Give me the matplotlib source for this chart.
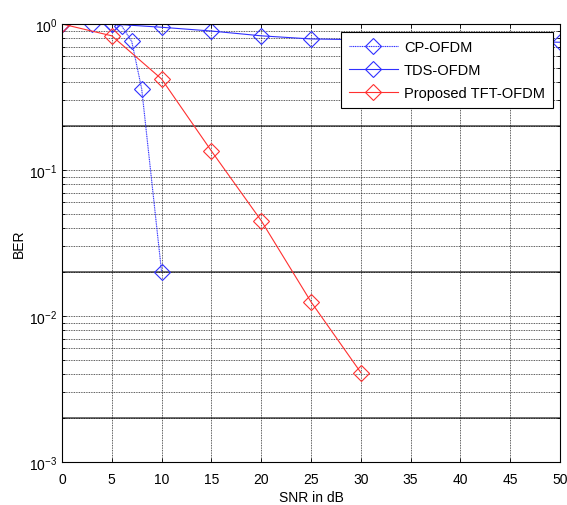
import matplotlib
matplotlib.use("Agg")
import matplotlib.pyplot as plt
import numpy as np

plt.rcParams.update({
    "font.family": ["Liberation Sans", "DejaVu Sans"],
    "font.size": 10,
    "mathtext.default": "regular",
})

# --- data ---
snr_cp = [0, 3, 5, 6, 7, 8, 10]
ber_cp = [1.0, 1.0, 1.0, 0.97, 0.76, 0.36, 0.02]

snr_tds = [0, 5, 10, 15, 20, 25, 30, 35, 40, 45, 50]
ber_tds = [1.0, 1.0, 0.95, 0.895, 0.83, 0.79, 0.78, 0.77, 0.765, 0.76, 0.75]

snr_tft = [0, 5, 10, 15, 20, 25, 30]
ber_tft = [1.0, 0.83, 0.42, 0.135, 0.045, 0.0125, 0.0041]

x_ticks = list(range(0, 51, 5))
solid_rows = [2e-1, 2e-2, 2e-3]

fig = plt.figure(figsize=(5.67, 5.06), dpi=100)
ax = fig.add_axes([62 / 567, 1 - 463 / 506, 498 / 567, 438 / 506])

ax.set_yscale("log")
ax.set_xlim(0, 50)
ax.set_ylim(1e-3, 1)
ax.set_xticks(x_ticks)

# grid: dotted everywhere, the 2x10^k rows look solid grey in the original
ax.grid(True, which="both", axis="both", linestyle=(0, (1, 1)),
        color="black", linewidth=0.6, alpha=0.85)
for y in solid_rows:
    ax.axhline(y, color="#555555", linewidth=1.2, zorder=1)

mk = dict(marker="D", markersize=8, markerfacecolor="none", markeredgewidth=0.8)
ax.plot(snr_cp, ber_cp, color="#3030ff", linestyle=(0, (1, 0.6)),
        linewidth=0.8, label="CP-OFDM", **mk)
ax.plot(snr_tds, ber_tds, color="#3030ff", linestyle="-",
        linewidth=0.8, label="TDS-OFDM", **mk)
ax.plot(snr_tft, ber_tft, color="#ff3030", linestyle="-",
        linewidth=0.8, label="Proposed TFT-OFDM", **mk)

ax.tick_params(which="both", direction="in", top=True, right=True)
ax.tick_params(which="major", length=3, width=0.6)
ax.tick_params(which="minor", length=2, width=0.6)
ax.tick_params(axis="x", pad=7)
for s in ax.spines.values():
    s.set_linestyle((0, (1, 1)))
    s.set_linewidth(0.8)

ax.set_xlabel("SNR in dB", labelpad=3)
ax.set_ylabel("BER", labelpad=2)

leg = ax.legend(loc="upper right", bbox_to_anchor=(491 / 498, 430 / 438),
                borderaxespad=0, fancybox=False, framealpha=1,
                edgecolor="black", handlelength=3.4, handletextpad=0.4,
                borderpad=0.55, labelspacing=0.62, fontsize=10.5)
leg.get_frame().set_linewidth(0.8)

fig.savefig("out.png", dpi=100)
